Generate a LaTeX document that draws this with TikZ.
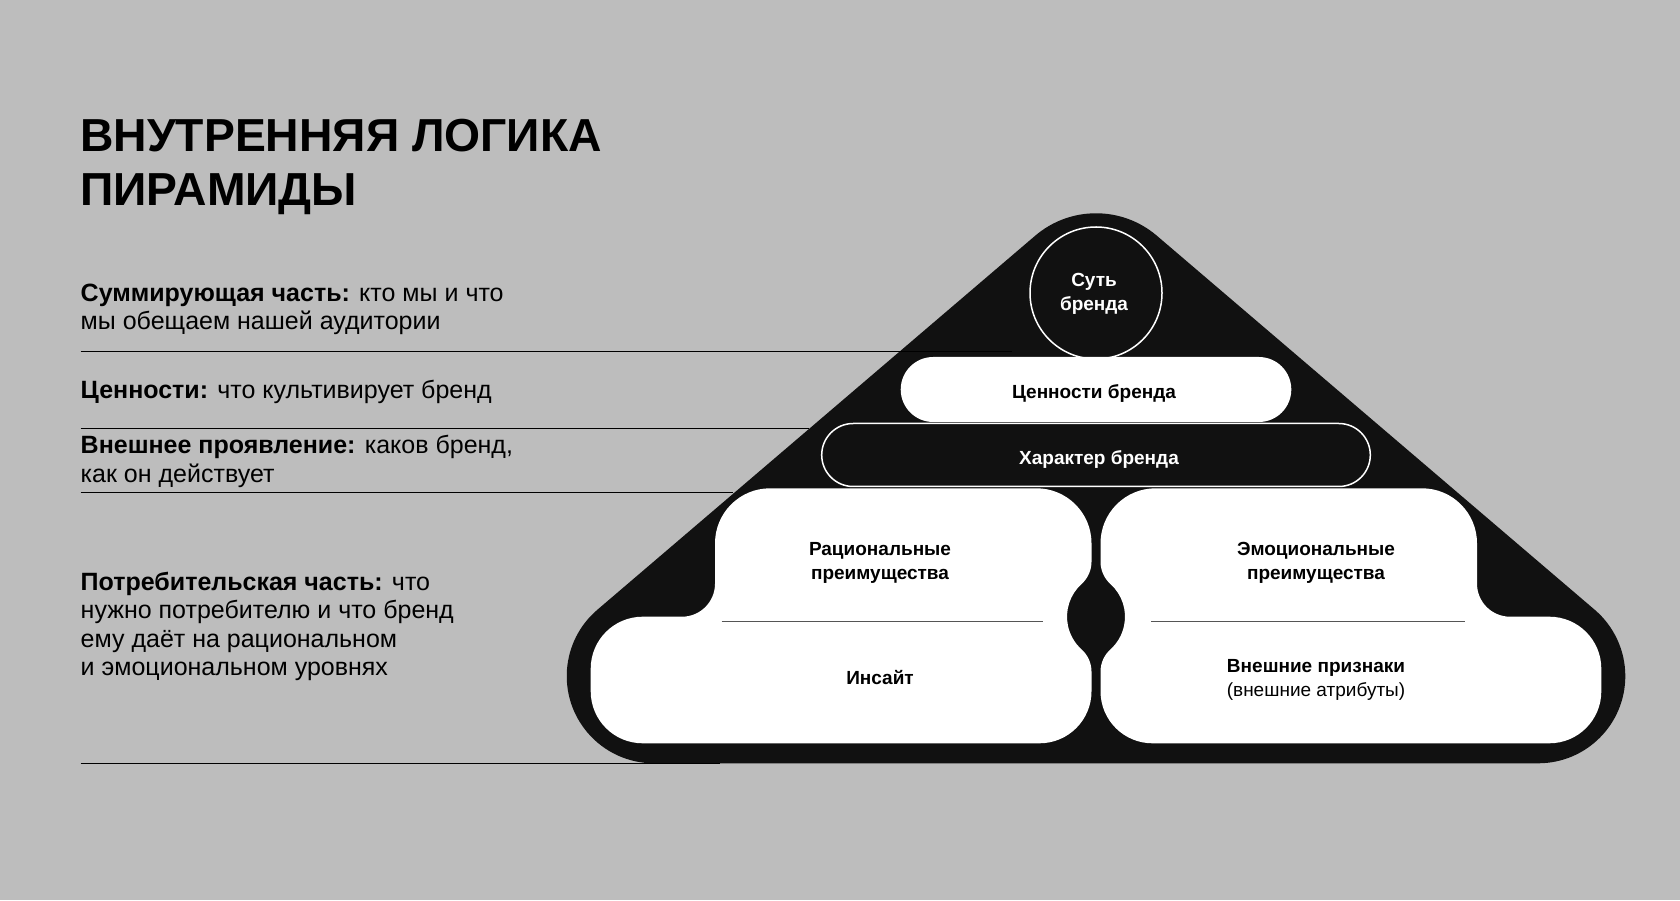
\documentclass[tikz,border=0pt]{standalone}
\usepackage{fontspec}
\setmainfont{Liberation Sans}
\newfontfamily\boxfont{Liberation Sans}
\usepackage{tikz}
\usetikzlibrary{shapes,shapes.misc,positioning,calc}
\definecolor{bggray}{HTML}{BDBDBD}
\definecolor{ink}{HTML}{111111}
\definecolor{divgray}{HTML}{555555}
\newcommand{\blobpath}{(770,411.7) -- (1036.5,411.7)
  arc[start angle=90, end angle=0, radius=55] -- (1091.5,338.3)
  arc[start angle=0, end angle=-48, radius=30]
  arc[start angle=132, end angle=228, radius=44]
  arc[start angle=48, end angle=0, radius=30] -- (1091.5,208.7)
  arc[start angle=0, end angle=-90, radius=52] -- (642.7,156.7)
  arc[start angle=270, end angle=180, radius=52] -- (590.7,231.3)
  arc[start angle=180, end angle=90, radius=52] -- (682,283.3)
  arc[start angle=270, end angle=360, radius=33] -- (715,356.7)
  arc[start angle=180, end angle=90, radius=55] -- cycle}

\begin{document}
\begin{tikzpicture}[
    x=1pt, y=1pt,
    note/.style={anchor=base west, align=left, inner sep=0pt,
      font=\fontsize{25}{28.5}\selectfont},
    rule/.style={black, line width=1pt},
    label/.style={align=center, inner sep=0pt,
      font=\boxfont\bfseries\fontsize{19}{23.5}\selectfont},
    pill/.style={rounded rectangle, minimum height=65pt, inner sep=0pt}
]
  \fill[bggray] (0,0) rectangle (1680,900);
  \useasboundingbox (0,0) rectangle (1680,900);

  % left column
  \node[note, font=\bfseries\fontsize{46.3}{54}\selectfont] (title) at (80,694.5)
    {ВНУТРЕННЯЯ ЛОГИКА\\ПИРАМИДЫ};
  \node[note] (summ) at (80.5,570.3)
    {\textbf{Суммирующая часть:} кто мы и что\\мы обещаем нашей аудитории};
  \node[note] (vals) at (80.5,501.2)
    {\textbf{Ценности:} что культивирует бренд};
  \node[note] (look) at (80.5,417.6)
    {\textbf{Внешнее проявление:} каков бренд,\\как он действует};
  \node[note] (cons) at (80.5,224.2)
    {\textbf{Потребительская часть:} что\\нужно потребителю и что бренд\\ему даёт на рациональном\\и эмоциональном уровнях};

  % pyramid body
  \fill[ink] (653.9,136.7) -- (1538.1,136.7)
    arc[start angle=-90, end angle=49.5, radius=87.2] -- (1156.8,664.3)
    arc[start angle=49.5, end angle=130.5, radius=93.6] -- (597.3,290.2)
    arc[start angle=130.5, end angle=270, radius=87.2] -- cycle;

  % rules
  \draw[rule] (80.5,548) -- (1011.7,548);
  \draw[rule] (80.5,471.7) -- (809,471.7);
  \draw[rule] (80.5,407.7) -- (732.7,407.7);
  \draw[rule] (80.5,136.7) -- (720,136.7);

  % base blocks
  \fill[white] \blobpath;
  \begin{scope}[xshift=2192pt, xscale=-1]
    \fill[white] \blobpath;
  \end{scope}
  \draw[divgray, line width=1.2pt] (721.7,278.7) -- (1042.5,278.7);
  \draw[divgray, line width=1.2pt] (1151,278.7) -- (1465,278.7);

  % nodes
  \node[circle, draw=white, line width=1.5pt, fill=ink, minimum size=132pt,
    label, text=white] (essence) at (1096,607) {};
  \node[label, text=white] (essence text) at (1094,606) {Суть\\бренда};
  \node[pill, fill=white, minimum width=390.6pt, label] (values) at (1096,510.5) {};
  \node[label] at (1094,506) {Ценности бренда};
  \node[pill, fill=ink, draw=white, line width=1.5pt, minimum width=548.6pt,
    minimum height=63pt] (character) at (1096,445) {};
  \node[label, text=white] at (1099,440) {Характер бренда};
  \node[label] (rational) at (880,337) {Рациональные\\преимущества};
  \node[label] (insight) at (880,222) {Инсайт};
  \node[label] (emotional) at (1316,337) {Эмоциональные\\преимущества};
  \node[label] (attrs) at (1316,220)
    {Внешние признаки\\{\mdseries (внешние атрибуты)}};
\end{tikzpicture}
\end{document}
